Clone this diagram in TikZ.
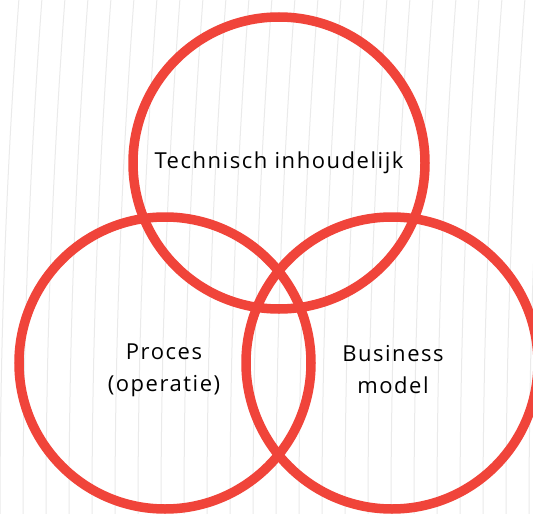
\documentclass[tikz,border=0pt]{standalone}
\usepackage{fontspec}
\setmainfont{Open Sans}[LetterSpace=7]
\definecolor{vred}{RGB}{240,68,58}
\definecolor{bgline}{RGB}{234,234,234}
\begin{document}
\begin{tikzpicture}[x=1pt,y=-1pt,
  ring/.style={circle, draw=vred, line width=9.5pt, minimum size=292pt, inner sep=0pt},
  lbl/.style={font=\fontsize{22}{32}\selectfont, align=center, text=black, inner sep=0pt},
  bgstroke/.style={draw=bgline, line width=1pt}]
\useasboundingbox (0,0) rectangle (533,514);
\begin{scope}
\clip (0,0) rectangle (533,514);
\fill[white] (0,0) rectangle (533,514);
\foreach \k in {-1,...,24} {
  \draw[bgstroke] (23*\k+19,-2) .. controls (23*\k+6.3,171.3) and (23*\k,342.7) .. (23*\k,516);
}
\node[ring] (top) at (279,163) {};
\node[ring] (left) at (165,363) {};
\node[ring] (right) at (392,363) {};
\end{scope}
\node[lbl] (ttop) at (279,163) {Technisch inhoudelijk};
\node[lbl] (tleft) at (164,370) {Proces\\(operatie)};
\node[lbl] (tright) at (393,370) {Business\\model};
\end{tikzpicture}
\end{document}
